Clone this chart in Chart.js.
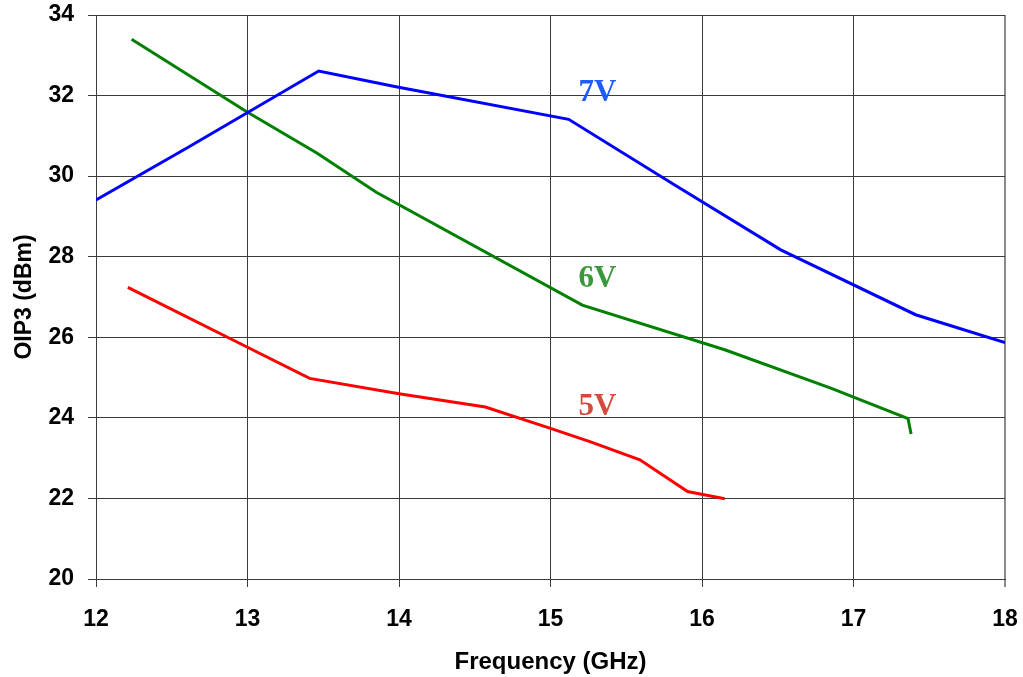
<!DOCTYPE html>
<html>
<head>
<meta charset="utf-8">
<script src="https://cdn.jsdelivr.net/npm/chart.js@4/dist/chart.umd.min.js"></script>
<style>
  body { margin: 0; background: #fff; }
</style>
</head>
<body>
<canvas id="chart" width="1023" height="677"></canvas>
<script>
// OIP3 vs frequency for three supply voltages
const freq7V = [12.0, 12.60, 13.47, 13.98, 15.12, 15.82, 16.52, 17.41, 18.0];
const oip7V = [29.41, 30.70, 32.61, 32.22, 31.41, 29.78, 28.17, 26.56, 25.87];

const freq6V = [12.235, 12.995, 13.46, 13.85, 15.21, 16.15, 16.85, 17.36, 17.38];
const oip6V = [33.40, 31.60, 30.57, 29.60, 26.80, 25.69, 24.74, 23.98, 23.60];

const freq5V = [12.21, 12.98, 13.41, 14.0, 14.57, 15.0, 15.26, 15.59, 15.905, 16.15];
const oip5V = [27.24, 25.79, 24.98, 24.60, 24.27, 23.74, 23.41, 22.96, 22.17, 21.99];

const xTicks = [12, 13, 14, 15, 16, 17, 18];
const yTicks = [20, 22, 24, 26, 28, 30, 32, 34];

// curve names, drawn next to each curve (anchor in data units)
const curveNames = ['7V', '6V', '5V'];
const nameFreq = [15.31, 15.31, 15.31];
const nameOip = [32.06, 27.45, 24.27];
const nameColors = ['#1f5cff', '#3a973a', '#d64a3c'];

function pts(xs, ys) {
  return xs.map((x, i) => ({ x: x, y: ys[i] }));
}

const curveLabels = {
  id: 'curveLabels',
  afterDatasetsDraw(chart) {
    const ctx = chart.ctx;
    const xs = chart.scales.x, ys = chart.scales.y;
    ctx.save();
    ctx.font = 'bold 31px "Liberation Serif", "DejaVu Serif", serif';
    ctx.textAlign = 'center';
    ctx.textBaseline = 'middle';
    curveNames.forEach((t, i) => {
      ctx.fillStyle = nameColors[i];
      ctx.fillText(t, xs.getPixelForValue(nameFreq[i]), ys.getPixelForValue(nameOip[i]));
    });
    ctx.restore();
  }
};

const ctx = document.getElementById('chart').getContext('2d');
const chart = new Chart(ctx, {
  type: 'line',
  data: {
    datasets: [
      { label: '7V', data: pts(freq7V, oip7V), borderColor: '#0000ff' },
      { label: '6V', data: pts(freq6V, oip6V), borderColor: '#008000' },
      { label: '5V', data: pts(freq5V, oip5V), borderColor: '#ff0000' }
    ]
  },
  options: {
    responsive: false,
    animation: false,
    layout: { padding: { top: 15, right: 18, left: 0, bottom: 0 } },
    elements: {
      line: { borderWidth: 3, tension: 0, fill: false },
      point: { radius: 0 }
    },
    plugins: {
      legend: { display: false },
      tooltip: { enabled: false }
    },
    scales: {
      x: {
        type: 'linear',
        min: 12,
        max: 18,
        afterFit(scale) {
          scale.height = 98;
          scale.paddingLeft = 0;
          scale.paddingRight = 0;
        },
        afterBuildTicks(scale) { scale.ticks = xTicks.map(v => ({ value: v })); },
        grid: {
          color: ctx => ctx.tick && ctx.tick.value === 18 ? '#8a8a8a' : '#3c3c3c',
          lineWidth: ctx => ctx.tick && ctx.tick.value === 18 ? 2 : 1,
          tickLength: 8
        },
        border: { color: '#3c3c3c' },
        ticks: {
          color: '#000',
          padding: 19,
          maxRotation: 0,
          font: { family: '"Liberation Sans", Arial, sans-serif', size: 23, weight: 'bold' }
        },
        title: {
          display: true,
          text: 'Frequency (GHz)',
          color: '#000',
          padding: { top: 0, bottom: 0 },
          font: { family: '"Liberation Sans", Arial, sans-serif', size: 24, weight: 'bold' }
        }
      },
      y: {
        type: 'linear',
        min: 20,
        max: 34,
        afterFit(scale) {
          scale.width = 96;
          scale.paddingTop = 0;
          scale.paddingBottom = 0;
        },
        afterBuildTicks(scale) { scale.ticks = yTicks.map(v => ({ value: v })); },
        grid: { color: '#3c3c3c', lineWidth: 1, tickLength: 8 },
        border: { color: '#3c3c3c' },
        ticks: {
          color: '#000',
          padding: 14,
          font: { family: '"Liberation Sans", Arial, sans-serif', size: 23, weight: 'bold' }
        },
        title: {
          display: true,
          text: 'OIP3 (dBm)',
          color: '#000',
          padding: { top: 11, bottom: 0 },
          font: { family: '"Liberation Sans", Arial, sans-serif', size: 23, weight: 'bold' }
        }
      }
    }
  },
  plugins: [curveLabels]
});
</script>
</body>
</html>
